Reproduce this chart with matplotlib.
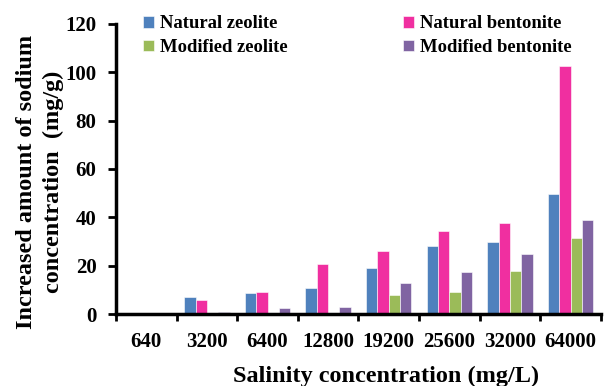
import numpy as np
import matplotlib.pyplot as plt

salinity = ['640', '3200', '6400', '12800', '19200', '25600', '32000', '64000']
natural_zeolite = [0, 7.0, 8.7, 10.8, 19.0, 28.0, 29.8, 49.6]
natural_bentonite = [0, 5.8, 9.3, 20.7, 26.0, 34.3, 37.6, 102.6]
modified_zeolite = [0, 0, 0, 0.5, 7.7, 9.0, 17.8, 31.4]
modified_bentonite = [0, 0.8, 2.5, 2.9, 13.0, 17.4, 24.8, 38.9]


def main():
    plt.rcParams['font.family'] = ['Liberation Serif', 'DejaVu Serif']
    plt.rcParams['font.weight'] = 'bold'

    fig = plt.figure(figsize=(6.04, 3.86), dpi=100)
    ax = fig.add_axes([0.192, 0.1865, 0.803, 0.7515])

    x = np.arange(len(salinity))
    w = 0.187
    series = [
        ('Natural zeolite', natural_zeolite, '#4F81BD'),
        ('Natural bentonite', natural_bentonite, '#F02FA0'),
        ('Modified zeolite', modified_zeolite, '#9BBB59'),
        ('Modified bentonite', modified_bentonite, '#8064A2'),
    ]
    bars = {}
    for i, (name, vals, col) in enumerate(series):
        bars[name] = ax.bar(x + (i - 1.5) * w, vals, w, color=col,
                            edgecolor='white', linewidth=0.4, label=name)

    ax.set_xlim(-0.5, len(salinity) - 0.5)
    ax.set_ylim(0, 120)
    ax.set_yticks(range(0, 121, 20))

    # boundary ticks as major, labels at category centres as minor
    ax.set_xticks(np.arange(-0.5, len(salinity), 1.0))
    ax.set_xticklabels([])
    ax.set_xticks(x, minor=True)
    ax.set_xticklabels(salinity, minor=True)
    ax.tick_params(axis='x', which='major', length=5, width=2, direction='out')
    ax.tick_params(axis='x', which='minor', length=0, pad=13, labelsize=15)
    ax.tick_params(axis='y', length=6, width=2, direction='out', labelsize=15, pad=8)

    for lab in ax.get_xticklabels(minor=True) + ax.get_yticklabels():
        lab.set_fontweight('bold')

    for s in ['top', 'right']:
        ax.spines[s].set_visible(False)
    for s in ['left', 'bottom']:
        ax.spines[s].set_linewidth(2.5)

    fig.text(386 / 604, 1 - 376 / 386, 'Salinity concentration (mg/L)',
             fontsize=17.5, fontweight='bold', ha='center', va='center')
    fig.text(40 / 604, 1 - 182 / 386,
             'Increased amount of sodium\nconcentration  (mg/g)',
             fontsize=17.5, fontweight='bold', ha='center', va='center',
             rotation=90, multialignment='center', linespacing=1.3)

    handles = [bars['Natural zeolite'], bars['Modified zeolite'],
               bars['Natural bentonite'], bars['Modified bentonite']]
    labels = ['Natural zeolite', 'Modified zeolite',
              'Natural bentonite', 'Modified bentonite']
    fig.legend(handles, labels, ncol=2, frameon=False,
               loc='upper left', bbox_to_anchor=(143 / 604, 1 - 15.5 / 386),
               borderpad=0, borderaxespad=0,
               prop={'weight': 'bold', 'size': 13.4},
               handlelength=0.6, handleheight=0.6, handletextpad=0.3,
               columnspacing=6.2, labelspacing=0.35)

    fig.savefig('out.png', dpi=100)


if __name__ == "__main__":
    main()
